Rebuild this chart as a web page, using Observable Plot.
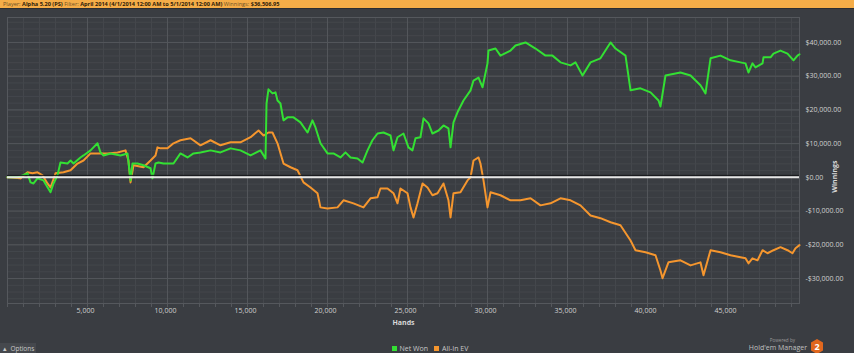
<!DOCTYPE html>
<html><head><meta charset="utf-8">
<script src="https://cdn.jsdelivr.net/npm/d3@7"></script>
<script src="https://cdn.jsdelivr.net/npm/@observablehq/plot@0.6"></script>
<style>
html,body{margin:0;padding:0;background:#3a3d42;width:854px;height:353px;overflow:hidden;font-family:"Open Sans",sans-serif;}
#hdr{position:absolute;left:0;top:0;width:854px;height:8px;background:#f5ad48;border-bottom:1px solid #2b2d31;font-size:5.6px;line-height:8px;color:#6e5226;white-space:nowrap;padding-left:3px;box-sizing:content-box;}
#hdr b{color:#2e2008;font-weight:700;}
#chart{position:absolute;left:0;top:9px;}
#legend{position:absolute;top:344px;left:0;width:854px;text-align:center;font-size:7px;color:#c8c8c8;line-height:9px;}
#legend span.sw{display:inline-block;width:5px;height:5px;margin:0 3px 0 6px;vertical-align:0px;}
#opts{position:absolute;left:0;top:343px;width:36px;height:10px;background:#45484d;font-size:6.5px;color:#c8c8c8;line-height:11px;padding-left:3px;box-sizing:border-box;}
#pw{position:absolute;right:59px;top:337px;font-size:4.6px;color:#9a9a9a;}
#hm{position:absolute;right:47px;top:343px;font-size:7px;color:#c0c0c0;}
#badge{position:absolute;left:810px;top:339px;}
</style></head>
<body>
<div id="hdr"></div>
<div id="chart"></div>
<div id="opts">&#9652;&nbsp; Options</div>
<div id="legend"></div>
<div id="pw">Powered by</div>
<div id="hm">Hold'em Manager</div>
<svg id="badge" width="14" height="16"><polygon points="7,0 13,3.5 13,11.5 7,15 1,11.5 1,3.5" fill="#e0671e"/><text x="7" y="11" text-anchor="middle" font-size="9" font-weight="700" fill="#fff" font-family="Open Sans">2</text></svg>
<script>
// ---- data ----
const headerParts = [["Player: ", "Alpha 5.20 (PS)"], [" Filter: ", "April 2014 (4/1/2014 12:00 AM to 5/1/2014 12:00 AM)"], [" Winnings: ", "$36,506.95"]];
const seriesNames = ["Net Won", "All-In EV"];
const seriesColors = ["#33e033", "#f5962e"];
const xTicks = [5000, 10000, 15000, 20000, 25000, 30000, 35000, 40000, 45000];
const yTicks = [-30000, -20000, -10000, 0, 10000, 20000, 30000, 40000];
const xTitle = "Hands";
const yTitle = "Winnings";

// [hand, $]
const netWon = [
[0,0],[625,0],[1250,1200],[1440,-1500],[1625,-1800],[1875,-300],[2250,-900],[2690,-4400],[2875,-1800],[3125,600],
[3310,4400],[3750,4100],[3940,5000],[4125,4100],[4560,5900],[4750,6500],[5190,8000],[5625,10100],[5810,7400],[6000,6500],
[6440,7100],[7060,6500],[7500,7100],[7690,-900],[7810,4100],[8125,4100],[8500,3600],[8940,2700],[9060,-300],[9250,4100],
[9440,4400],[9750,4100],[10375,4100],[10810,7100],[11250,5900],[11625,7100],[12060,7400],[12690,8000],[13310,7400],[13940,8600],
[14560,8000],[15190,6500],[15810,8000],[16125,5600],[16190,21900],[16310,26100],[16560,24900],[16750,25200],[16875,22800],[17060,21900],
[17190,18400],[17250,16900],[17500,17800],[17875,17800],[18310,16300],[18750,13300],[19060,16900],[19250,14800],[19560,10100],[20000,7100],
[20375,7100],[20810,5900],[21125,7400],[21440,5900],[21875,5600],[22190,4400],[22500,8000],[22810,11000],[23125,13000],[23500,13300],
[23940,12400],[24125,8000],[24375,11900],[24750,13000],[25060,8900],[25310,8000],[25500,11600],[25810,11900],[26000,17500],[26310,16000],
[26560,13000],[26940,13900],[27250,15400],[27560,14500],[27690,8900],[27875,16300],[28125,19300],[28500,22800],[28940,25800],[29125,28700],
[29440,29600],[29690,26700],[30000,33800],[30060,37600],[30500,38200],[30810,36100],[31440,37600],[31750,39100],[32375,40000],[33000,38200],
[33625,36100],[34060,36100],[34560,34100],[35190,33200],[35500,34100],[35940,30200],[36440,34100],[37060,35300],[37690,40000],[38000,38200],
[38625,36100],[38940,25800],[39560,26400],[40190,25200],[40690,22800],[40810,21000],[41125,30200],[42060,31100],[42690,30200],[43310,27300],
[43625,24900],[43940,35300],[44560,36100],[45190,34700],[45810,34100],[46125,33800],[46310,31100],[46560,33800],[46750,32600],[47190,33800],
[47250,35600],[47690,35600],[47875,36700],[48310,37600],[48750,36700],[49125,34700],[49375,36100],[49500,36500]
];
const allInEV = [
[0,0],[810,-300],[1250,1500],[1560,1200],[1875,1500],[2190,600],[2500,-1800],[2690,-3000],[3000,1200],[3500,1500],
[3940,2100],[4375,4100],[4750,5000],[5190,7100],[5625,7100],[6250,7100],[6875,7400],[7375,8000],[7560,5000],[7690,-1500],
[7875,3600],[8500,3000],[8940,5000],[9250,6500],[9375,8900],[9560,8600],[10000,8600],[10375,10100],[10810,11000],[11440,11600],
[12060,9500],[12690,11000],[13310,9500],[13940,10400],[14560,10400],[15190,11900],[15690,13900],[16000,12400],[16310,13300],[16560,13300],
[16875,10100],[17250,4100],[17690,3000],[18125,2100],[18500,-1500],[18940,-3000],[19375,-4700],[19560,-8900],[20000,-9200],[20625,-8900],
[21000,-6800],[21625,-7700],[22250,-8900],[22690,-6200],[23125,-5900],[23310,-3300],[23750,-3300],[24125,-4700],[24375,-7700],[24560,-3300],
[25000,-4700],[25190,-8900],[25375,-11900],[25625,-7700],[25940,-1800],[26250,-3000],[26560,-5300],[26875,-4700],[27250,-1800],[27560,-6800],
[27690,-11900],[27875,-4700],[28310,-4400],[28750,-900],[28940,0],[29125,5000],[29440,5900],[29560,4100],[29750,-900],[30000,-8900],
[30190,-4400],[30810,-5300],[31440,-6800],[32060,-6800],[32690,-6200],[33310,-8300],[33940,-7700],[34560,-6200],[35190,-6800],[35810,-8300],
[36440,-11300],[37060,-12100],[37690,-13300],[38310,-14200],[38940,-18700],[39250,-21600],[39875,-22200],[40500,-23100],[40810,-27600],[40940,-29900],
[41310,-25200],[42060,-24600],[42690,-26100],[43310,-25200],[43500,-29000],[43940,-21600],[44560,-22200],[45190,-23100],[45810,-23700],[46125,-24000],
[46310,-25500],[46560,-24000],[46875,-24600],[47190,-21600],[47500,-22500],[47875,-21600],[48310,-20700],[48750,-21600],[49060,-22500],[49250,-21000],
[49500,-20100]
];

// ---- header / legend ----
document.getElementById("hdr").innerHTML = headerParts.map(([a,b]) => `${a}<b>${b}</b>`).join("");
document.getElementById("legend").innerHTML = seriesNames.map((n,i) => `<span class="sw" style="background:${seriesColors[i]}"></span>${n}`).join("");

// ---- chart ----
const xDom = [0, 49500], yDom = [-37400, 47400];
const minorX = d3.range(0, 49501, 1000);
const minorY = d3.range(-36000, 47001, 2000);
const fmtMoney = v => (v < 0 ? "-$" : "$") + d3.format(",.2f")(Math.abs(v));
const toObj = arr => arr.map(([h, v]) => ({h, v}));

const chart = Plot.plot({
  width: 854, height: 344,
  marginTop: 8, marginBottom: 50, marginLeft: 7, marginRight: 55,
  style: {background: "transparent", color: "#d0d0d0", fontFamily: "Open Sans", fontSize: "7px"},
  x: {domain: xDom},
  y: {domain: yDom},
  marks: [
    Plot.ruleX(minorX, {stroke: "#44474c", strokeWidth: 1}),
    Plot.ruleY(minorY, {stroke: "#44474c", strokeWidth: 1}),
    Plot.ruleX(xTicks, {stroke: "#53565b", strokeWidth: 1}),
    Plot.ruleY(yTicks, {stroke: "#53565b", strokeWidth: 1}),
    Plot.frame({stroke: "#55585d"}),
    Plot.axisX(minorX, {tickSize: 4, tickFormat: () => "", stroke: "#55585d", label: null}),
    Plot.axisX(xTicks, {tickSize: 0, tickPadding: 5, tickFormat: d3.format(","), dx: -2, fill: "#d0d0d0", label: null}),
    Plot.axisY(yTicks, {anchor: "right", tickSize: 0, tickPadding: 6, tickFormat: fmtMoney, fill: "#d0d0d0", label: null}),
    Plot.line(toObj(allInEV), {x: "h", y: "v", stroke: seriesColors[1], strokeWidth: 2, curve: "linear"}),
    Plot.line(toObj(netWon), {x: "h", y: "v", stroke: seriesColors[0], strokeWidth: 2, curve: "linear"}),
    Plot.ruleY([0], {stroke: "#15171a", strokeWidth: 1, dy: -2}),
    Plot.ruleY([0], {stroke: "#e6e6e6", strokeWidth: 2}),
    Plot.text([xTitle], {frameAnchor: "bottom", dy: 21, fontWeight: "bold", fill: "#d8d8d8", fontSize: 7}),
    Plot.text([yTitle], {frameAnchor: "right", dx: 35, rotate: -90, fontWeight: "bold", fill: "#d8d8d8", fontSize: 7})
  ]
});
document.getElementById("chart").appendChild(chart);
</script>
</body></html>
